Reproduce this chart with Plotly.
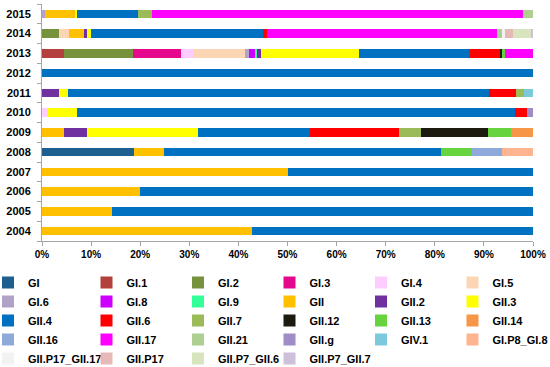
import plotly.graph_objects as go

years = ["2004", "2005", "2006", "2007", "2008", "2009", "2010", "2011", "2012", "2013", "2014", "2015"]

# Percentage of each genotype per year (2004 .. 2015)
gi             = [0, 0, 0, 0, 18.7, 0, 0, 0, 0, 0, 0, 0]
gi_1           = [0, 0, 0, 0, 0, 0, 0, 0, 0, 4.4, 0, 0]
gi_2           = [0, 0, 0, 0, 0, 0, 0, 0, 0, 14.2, 3.5, 0]
gi_3           = [0, 0, 0, 0, 0, 0, 0, 0, 0, 9.7, 0, 0]
gi_4           = [0, 0, 0, 0, 0, 0, 1.1, 0, 0, 2.5, 0, 0]
gi_5           = [0, 0, 0, 0, 0, 0, 0, 0, 0, 10.6, 1.9, 0]
gi_6           = [0, 0, 0, 0, 0, 0, 0, 0, 0, 0.8, 0, 0.7]
gi_8           = [0, 0, 0, 0, 0, 0, 0, 0, 0, 1.3, 0, 0]
gi_9           = [0, 0, 0, 0, 0, 0, 0, 0, 0, 0.3, 0, 0]
gii            = [42.8, 14.2, 20, 50, 6.2, 4.55, 0, 0, 0, 0, 3.3, 6.1]
gii_2          = [0, 0, 0, 0, 0, 4.55, 0, 3.5, 0, 0.9, 0.4, 0]
gii_3          = [0, 0, 0, 0, 0, 22.73, 6.0, 1.7, 0, 19.9, 0.8, 0.4]
gii_4          = [57.2, 85.8, 80, 50, 56.4, 22.73, 89.3, 85.8, 100, 22.5, 35.1, 12.3]
gii_6          = [0, 0, 0, 0, 0, 18.18, 2.4, 5.5, 0, 6.1, 0.8, 0]
gii_7          = [0, 0, 0, 0, 0, 4.55, 0, 1.6, 0, 0, 0, 3.0]
gii_12         = [0, 0, 0, 0, 0, 13.64, 0, 0, 0, 0.6, 0, 0]
gii_13         = [0, 0, 0, 0, 6.2, 4.55, 0, 0, 0, 0.4, 0, 0]
gii_14         = [0, 0, 0, 0, 0, 4.55, 0, 0, 0, 0, 0, 0]
gii_16         = [0, 0, 0, 0, 6.2, 0, 0, 0, 0, 0, 0, 0]
gii_17         = [0, 0, 0, 0, 0, 0, 0, 0, 0, 5.8, 46.8, 75.5]
gii_21         = [0, 0, 0, 0, 0, 0, 0, 0, 0, 0, 1.2, 2.0]
gii_g          = [0, 0, 0, 0, 0, 0, 1.2, 0, 0, 0, 0, 0]
giv_1          = [0, 0, 0, 0, 0, 0, 0, 1.9, 0, 0, 0, 0]
gi_p8_gi_8     = [0, 0, 0, 0, 6.3, 0, 0, 0, 0, 0, 0, 0]
gii_p17_gii_17 = [0, 0, 0, 0, 0, 0, 0, 0, 0, 0, 0.4, 0]
gii_p17        = [0, 0, 0, 0, 0, 0, 0, 0, 0, 0, 1.8, 0]
gii_p7_gii_6   = [0, 0, 0, 0, 0, 0, 0, 0, 0, 0, 3.7, 0]
gii_p7_gii_7   = [0, 0, 0, 0, 0, 0, 0, 0, 0, 0, 0.3, 0]

series_names = ["GI", "GI.1", "GI.2", "GI.3", "GI.4", "GI.5",
                "GI.6", "GI.8", "GI.9", "GII", "GII.2", "GII.3",
                "GII.4", "GII.6", "GII.7", "GII.12", "GII.13", "GII.14",
                "GII.16", "GII.17", "GII.21", "GII.g", "GIV.1", "GI.P8_GI.8",
                "GII.P17_GII.17", "GII.P17", "GII.P7_GII.6", "GII.P7_GII.7"]
series_values = [gi, gi_1, gi_2, gi_3, gi_4, gi_5,
                 gi_6, gi_8, gi_9, gii, gii_2, gii_3,
                 gii_4, gii_6, gii_7, gii_12, gii_13, gii_14,
                 gii_16, gii_17, gii_21, gii_g, giv_1, gi_p8_gi_8,
                 gii_p17_gii_17, gii_p17, gii_p7_gii_6, gii_p7_gii_7]
colors = ["#1F5F8F", "#B3403D", "#76923C", "#E6088C", "#FFCCFF", "#FCD5B5",
          "#B3A2C7", "#CC00FF", "#33FF99", "#FFC000", "#7030A0", "#FFFF00",
          "#0070C0", "#FF0000", "#9BBB59", "#1D1B10", "#66D33F", "#F79646",
          "#8EAADB", "#FF00FF", "#ADCF8F", "#A08CC6", "#7CC8DC", "#FDB48F",
          "#F2F2F2", "#E6B9B8", "#D7E4BD", "#CCC0DA"]

x_ticks = [0, 10, 20, 30, 40, 50, 60, 70, 80, 90, 100]
x_tick_labels = ["0%", "10%", "20%", "30%", "40%", "50%", "60%", "70%", "80%", "90%", "100%"]

FONT = "Liberation Sans"
PLOT_L, PLOT_W = 42, 491

fig = go.Figure()
for i, (name, vals, col) in enumerate(zip(series_names, series_values, colors)):
    c = i % 6
    fig.add_trace(go.Bar(
        y=years, x=vals, name=name, orientation="h",
        marker=dict(color=col, line=dict(width=0)),
        legend="legend" if c == 0 else f"legend{c + 1}",
    ))

layout_legends = {}
for c in range(6):
    key = "legend" if c == 0 else f"legend{c + 1}"
    left_px = -12 if c == 0 else 91.5 * c - 5
    layout_legends[key] = dict(
        orientation="v", xref="paper", yref="container", traceorder="normal",
        x=(left_px - PLOT_L) / PLOT_W, y=1 - 268 / 367, xanchor="left", yanchor="top",
        font=dict(family=FONT, size=11, color="#000000", weight="bold"),
        bgcolor="rgba(0,0,0,0)", borderwidth=0, tracegroupgap=0,
        itemclick=False, itemdoubleclick=False,
    )

fig.update_layout(
    width=550, height=367,
    barmode="stack", bargap=0.58,
    margin=dict(l=PLOT_L, r=550 - PLOT_L - PLOT_W, t=4, b=126, autoexpand=False),
    plot_bgcolor="white", paper_bgcolor="white",
    xaxis=dict(range=[0, 100], tickmode="array", tickvals=x_ticks, ticktext=x_tick_labels,
               showgrid=False, zeroline=False,
               showline=True, linecolor="#A6A6A6", linewidth=1,
               ticks="outside", ticklen=4, tickcolor="#A6A6A6",
               tickfont=dict(family=FONT, size=10, color="#000000", weight="bold")),
    yaxis=dict(type="category", categoryorder="array", categoryarray=years,
               showgrid=False, zeroline=False,
               showline=True, linecolor="#A6A6A6", linewidth=1,
               ticks="outside", ticklen=4, tickcolor="#A6A6A6", tickson="boundaries",
               ticklabelstandoff=8,
               tickfont=dict(family=FONT, size=11, color="#000000", weight="bold")),
    showlegend=True,
    **layout_legends,
)

fig.write_html("out.html", config={"displayModeBar": False},
               post_script="document.body.style.margin='0';")
